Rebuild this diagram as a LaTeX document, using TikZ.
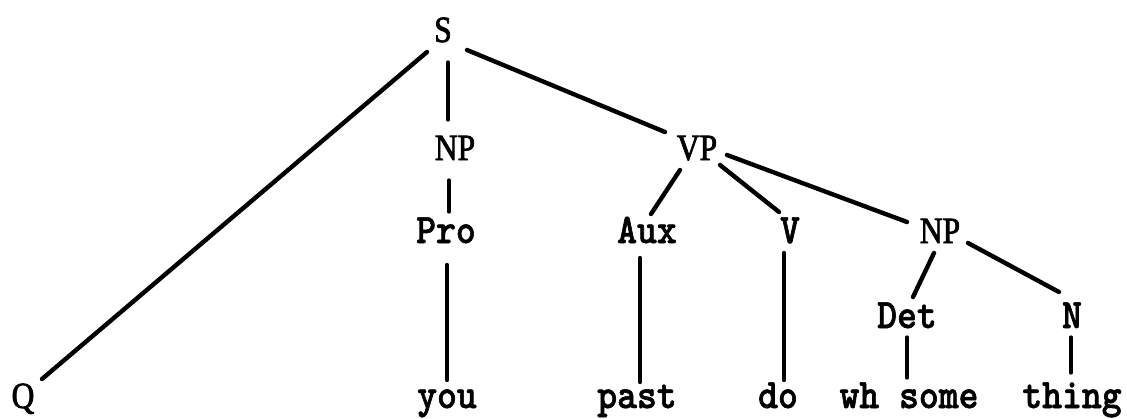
\documentclass[tikz,border=0pt]{standalone}
\usepackage{fontspec}
\newfontfamily\typefont{lmmonolt10-bold}[Extension=.otf,FakeStretch=0.9,FakeBold=1.4]
\newfontfamily\labelfont{Liberation Serif}[FakeStretch=0.85,FakeBold=2]
\begin{document}
\begin{tikzpicture}[x=1pt,y=-1pt,
  word/.style={inner sep=0pt,anchor=base,font=\typefont\fontsize{42}{42}\selectfont},
  cat/.style={inner sep=0pt,anchor=base,font=\labelfont\fontsize{37}{37}\selectfont},
  branch/.style={line width=4.4pt,line cap=round},
  thin branch/.style={line width=3.2pt,line cap=round}]
\useasboundingbox (0,0) rectangle (1127,418);

% labels of the tree, placed on their baselines
\node[cat]  (S)      at (443,42)  {S};
\node[cat]  (NPa)    at (455,160) {NP};
\node[cat]  (VP)     at (697,160) {VP};
\node[word] (Pro)    at (446,243) {Pro};
\node[word] (Aux)    at (647,243) {Aux};
\node[word] (V)      at (790,243) {V};
\node[cat]  (NPb)    at (940,243) {NP};
\node[word] (Det)    at (907,328) {Det};
\node[word] (N)      at (1072,328){N};
\node[cat]  (Q)      at (23,408)  {Q};
\node[word] (you)    at (447,408) {you};
\node[word] (past)   at (637,408) {past};
\node[word] (do)     at (778,408) {do};
\node[word] (whsome) at (909,408) {wh some};
\node[word] (thing)  at (1072,408){thing};

% branches
\draw[branch]      ([shift={(-16,10)}]S.base)   -- ([shift={(19,-29)}]Q.base);
\draw[thin branch] ([shift={(5,20)}]S.base)     -- ([shift={(-7,-40)}]NPa.base);
\draw[branch]      ([shift={(24,8)}]S.base)     -- ([shift={(-32,-28)}]VP.base);
\draw[thin branch] ([shift={(-6,20)}]NPa.base)  -- ([shift={(3,-31)}]Pro.base);
\draw[branch]      ([shift={(1,22)}]Pro.base)   -- ([shift={(0,-28)}]you.base);
\draw[branch]      ([shift={(-17,10)}]VP.base)  -- ([shift={(4,-29)}]Aux.base);
\draw[branch]      ([shift={(23,5)}]VP.base)    -- ([shift={(-11,-31)}]V.base);
\draw[branch]      ([shift={(30,-5)}]VP.base)   -- ([shift={(-33,-21)}]NPb.base);
\draw[branch]      ([shift={(-7,15)}]Aux.base)  -- ([shift={(3,-26)}]past.base);
\draw[branch]      ([shift={(-6,10)}]V.base)    -- ([shift={(6,-28)}]do.base);
\draw[branch]      ([shift={(-6,10)}]NPb.base)  -- ([shift={(6,-31)}]Det.base);
\draw[branch]      ([shift={(28,0)}]NPb.base)   -- ([shift={(-13,-36)}]N.base);
\draw[thin branch] ([shift={(0,9)}]Det.base)    -- ([shift={(-2,-30)}]whsome.base);
\draw[thin branch] ([shift={(-1,9)}]N.base)     -- ([shift={(-1,-35)}]thing.base);
\end{tikzpicture}
\end{document}
